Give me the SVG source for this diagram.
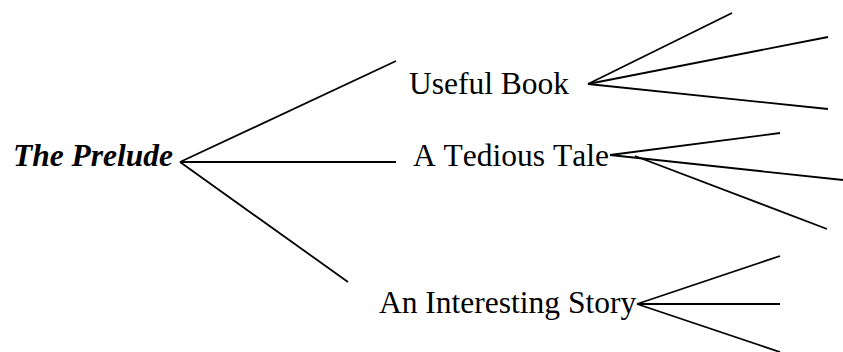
<svg xmlns="http://www.w3.org/2000/svg" width="843" height="352" viewBox="0 0 843 352">
  <style>
    .label { font-family: "Liberation Serif", "Times New Roman", serif; font-size: 31.5px; fill: #000; font-kerning: none; }
    .root { font-weight: bold; font-style: italic; }
    .edge { stroke: #000; stroke-width: 1.8; fill: none; stroke-linecap: butt; }
  </style>
  <rect width="843" height="352" fill="#fff"/>

  <!-- branches -->
  <g id="connectors">
    <!-- root to second level -->
    <line class="edge" x1="180" y1="162" x2="396" y2="61"/>
    <line class="edge" x1="180" y1="162" x2="396" y2="162"/>
    <line class="edge" x1="180" y1="162" x2="348" y2="282"/>
    <!-- Useful Book leaves -->
    <line class="edge" x1="588" y1="84" x2="732" y2="13"/>
    <line class="edge" x1="588" y1="84" x2="828" y2="37"/>
    <line class="edge" x1="588" y1="84" x2="828" y2="109"/>
    <!-- A Tedious Tale leaves -->
    <line class="edge" x1="610" y1="155" x2="780" y2="133"/>
    <line class="edge" x1="610" y1="155" x2="843" y2="180"/>
    <line class="edge" x1="635" y1="156" x2="827" y2="229"/>
    <!-- An Interesting Story leaves -->
    <line class="edge" x1="637" y1="304" x2="780" y2="256"/>
    <line class="edge" x1="637" y1="304" x2="780" y2="304"/>
    <line class="edge" x1="637" y1="304" x2="780" y2="352"/>
  </g>

  <g id="node-prelude">
    <text class="label root" x="13" y="166">The Prelude</text>
  </g>
  <g id="node-useful-book">
    <text class="label" x="409" y="94">Useful Book</text>
  </g>
  <g id="node-tedious-tale">
    <text class="label" x="413" y="166">A Tedious Tale</text>
  </g>
  <g id="node-interesting-story">
    <text class="label" x="379" y="313">An Interesting Story</text>
  </g>
</svg>
